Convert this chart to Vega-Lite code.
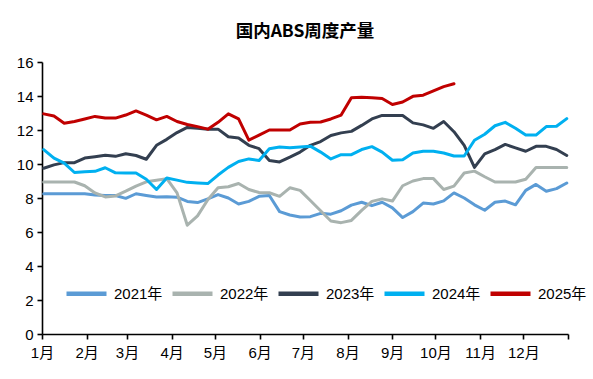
{
  "$schema": "https://vega.github.io/schema/vega-lite/v6.json",
  "width": 526,
  "height": 272,
  "autosize": "none",
  "padding": {"left": 42, "top": 62, "right": 25, "bottom": 45},
  "background": "white",
  "title": {
    "text": "国内ABS周度产量",
    "font": "Noto Sans CJK SC",
    "fontSize": 17.5,
    "fontWeight": "bold",
    "color": "#000000",
    "offset": 15,
    "anchor": "middle"
  },
  "config": {
    "view": {"stroke": null},
    "axis": {
      "grid": false,
      "domainColor": "#000000",
      "domainWidth": 1.6,
      "tickColor": "#000000",
      "tickWidth": 1.6,
      "tickSize": 5,
      "labelColor": "#000000",
      "labelFont": "Liberation Sans, Noto Sans CJK SC",
      "labelFontSize": 15,
      "labelFlush": false,
      "labelOverlap": false,
      "labelBound": false,
      "title": null
    }
  },
  "data": {
    "values": [
      {"w":1,"2021年":8.25,"2022年":8.94,"2023年":9.75,"2024年":10.85,"2025年":12.95},
      {"w":2,"2021年":8.25,"2022年":8.94,"2023年":9.95,"2024年":10.35,"2025年":12.82},
      {"w":3,"2021年":8.25,"2022年":8.94,"2023年":10.08,"2024年":10.05,"2025年":12.4},
      {"w":4,"2021年":8.25,"2022年":8.94,"2023年":10.08,"2024年":9.5,"2025年":12.5},
      {"w":5,"2021年":8.25,"2022年":8.72,"2023年":10.35,"2024年":9.55,"2025年":12.65},
      {"w":6,"2021年":8.17,"2022年":8.3,"2023年":10.43,"2024年":9.57,"2025年":12.8},
      {"w":7,"2021年":8.15,"2022年":8.06,"2023年":10.52,"2024年":9.78,"2025年":12.7},
      {"w":8,"2021年":8.15,"2022年":8.12,"2023年":10.45,"2024年":9.48,"2025年":12.7},
      {"w":9,"2021年":7.98,"2022年":8.4,"2023年":10.6,"2024年":9.47,"2025年":12.88},
      {"w":10,"2021年":8.25,"2022年":8.7,"2023年":10.5,"2024年":9.47,"2025年":13.12},
      {"w":11,"2021年":8.15,"2022年":8.95,"2023年":10.28,"2024年":9.1,"2025年":12.88},
      {"w":12,"2021年":8.06,"2022年":9.05,"2023年":11.1,"2024年":8.5,"2025年":12.6},
      {"w":13,"2021年":8.08,"2022年":9.14,"2023年":11.45,"2024年":9.18,"2025年":12.8},
      {"w":14,"2021年":8.05,"2022年":8.3,"2023年":11.85,"2024年":9.05,"2025年":12.5},
      {"w":15,"2021年":7.8,"2022年":6.4,"2023年":12.15,"2024年":8.92,"2025年":12.32},
      {"w":16,"2021年":7.73,"2022年":6.95,"2023年":12.1,"2024年":8.88,"2025年":12.2},
      {"w":17,"2021年":7.95,"2022年":7.9,"2023年":12.05,"2024年":8.85,"2025年":12.05},
      {"w":18,"2021年":8.2,"2022年":8.6,"2023年":12.05,"2024年":9.35,"2025年":12.45},
      {"w":19,"2021年":8.0,"2022年":8.66,"2023年":11.6,"2024年":9.8,"2025年":12.95},
      {"w":20,"2021年":7.65,"2022年":8.85,"2023年":11.53,"2024年":10.15,"2025年":12.65},
      {"w":21,"2021年":7.8,"2022年":8.5,"2023年":11.1,"2024年":10.3,"2025年":11.4},
      {"w":22,"2021年":8.1,"2022年":8.32,"2023年":10.9,"2024年":10.2,"2025年":11.7},
      {"w":23,"2021年":8.15,"2022年":8.31,"2023年":10.2,"2024年":10.9,"2025年":12.0},
      {"w":24,"2021年":7.2,"2022年":8.1,"2023年":10.12,"2024年":11.0,"2025年":12.0},
      {"w":25,"2021年":7.0,"2022年":8.6,"2023年":10.4,"2024年":10.95,"2025年":12.0},
      {"w":26,"2021年":6.88,"2022年":8.45,"2023年":10.7,"2024年":11.0,"2025年":12.35},
      {"w":27,"2021年":6.9,"2022年":7.85,"2023年":11.1,"2024年":11.05,"2025年":12.45},
      {"w":28,"2021年":7.1,"2022年":7.25,"2023年":11.32,"2024年":10.7,"2025年":12.47},
      {"w":29,"2021年":7.05,"2022年":6.65,"2023年":11.68,"2024年":10.3,"2025年":12.65},
      {"w":30,"2021年":7.25,"2022年":6.55,"2023年":11.83,"2024年":10.55,"2025年":12.88},
      {"w":31,"2021年":7.58,"2022年":6.68,"2023年":11.92,"2024年":10.55,"2025年":13.9},
      {"w":32,"2021年":7.75,"2022年":7.27,"2023年":12.27,"2024年":10.85,"2025年":13.92},
      {"w":33,"2021年":7.55,"2022年":7.8,"2023年":12.65,"2024年":11.02,"2025年":13.9},
      {"w":34,"2021年":7.75,"2022年":7.95,"2023年":12.86,"2024年":10.7,"2025年":13.85},
      {"w":35,"2021年":7.42,"2022年":7.82,"2023年":12.86,"2024年":10.22,"2025年":13.5},
      {"w":36,"2021年":6.85,"2022年":8.72,"2023年":12.85,"2024年":10.25,"2025年":13.65},
      {"w":37,"2021年":7.2,"2022年":9.0,"2023年":12.42,"2024年":10.65,"2025年":13.98},
      {"w":38,"2021年":7.7,"2022年":9.14,"2023年":12.3,"2024年":10.75,"2025年":14.05},
      {"w":39,"2021年":7.65,"2022年":9.14,"2023年":12.1,"2024年":10.75,"2025年":14.3},
      {"w":40,"2021年":7.83,"2022年":8.5,"2023年":12.5,"2024年":10.65,"2025年":14.55},
      {"w":41,"2021年":8.3,"2022年":8.7,"2023年":11.9,"2024年":10.47,"2025年":14.72},
      {"w":42,"2021年":8.0,"2022年":9.47,"2023年":11.1,"2024年":10.47},
      {"w":43,"2021年":7.6,"2022年":9.58,"2023年":9.8,"2024年":11.4},
      {"w":44,"2021年":7.28,"2022年":9.25,"2023年":10.6,"2024年":11.75},
      {"w":45,"2021年":7.75,"2022年":8.94,"2023年":10.85,"2024年":12.25},
      {"w":46,"2021年":7.82,"2022年":8.94,"2023年":11.15,"2024年":12.45},
      {"w":47,"2021年":7.6,"2022年":8.94,"2023年":10.95,"2024年":12.1},
      {"w":48,"2021年":8.45,"2022年":9.1,"2023年":10.75,"2024年":11.7},
      {"w":49,"2021年":8.8,"2022年":9.79,"2023年":11.04,"2024年":11.7},
      {"w":50,"2021年":8.4,"2022年":9.79,"2023年":11.04,"2024年":12.2},
      {"w":51,"2021年":8.55,"2022年":9.79,"2023年":10.85,"2024年":12.22},
      {"w":52,"2021年":8.88,"2022年":9.79,"2023年":10.5,"2024年":12.67}
    ]
  },
  "transform": [
    {"fold": ["2021年", "2022年", "2023年", "2024年", "2025年"], "as": ["year", "value"]},
    {"filter": "isValid(datum.value)"}
  ],
  "mark": {"type": "line", "strokeWidth": 3, "strokeJoin": "round", "strokeCap": "round"},
  "encoding": {
    "x": {
      "field": "w",
      "type": "quantitative",
      "scale": {"domain": [0.834, 52.12], "nice": false, "zero": false},
      "axis": {
        "values": [0.834, 5.19, 9.124, 13.48, 17.695, 22.051, 26.266, 30.622, 34.978, 39.193, 43.549, 47.764, 52.12],
        "labelExpr": "datum.value < 3 ? '1月' : datum.value < 7 ? '2月' : datum.value < 11 ? '3月' : datum.value < 15 ? '4月' : datum.value < 20 ? '5月' : datum.value < 24 ? '6月' : datum.value < 28 ? '7月' : datum.value < 33 ? '8月' : datum.value < 37 ? '9月' : datum.value < 41 ? '10月' : datum.value < 45 ? '11月' : datum.value < 50 ? '12月' : ''",
        "labelPadding": 6
      }
    },
    "y": {
      "field": "value",
      "type": "quantitative",
      "scale": {"domain": [0, 16], "nice": false},
      "axis": {"values": [0, 2, 4, 6, 8, 10, 12, 14, 16], "labelPadding": 4}
    },
    "color": {
      "field": "year",
      "type": "nominal",
      "scale": {
        "domain": ["2021年", "2022年", "2023年", "2024年", "2025年"],
        "range": ["#5B9BD5", "#A9B3AF", "#333F50", "#00B0F0", "#C00000"]
      },
      "legend": {
        "title": null,
        "orient": "none",
        "direction": "horizontal",
        "legendX": 22,
        "legendY": 209,
        "symbolType": "stroke",
        "symbolSize": 1600,
        "symbolStrokeWidth": 4.5,
        "labelFont": "Liberation Sans, Noto Sans CJK SC",
        "labelFontSize": 15,
        "labelColor": "#000000",
        "labelOffset": 5,
        "columnPadding": 0
      }
    }
  }
}
